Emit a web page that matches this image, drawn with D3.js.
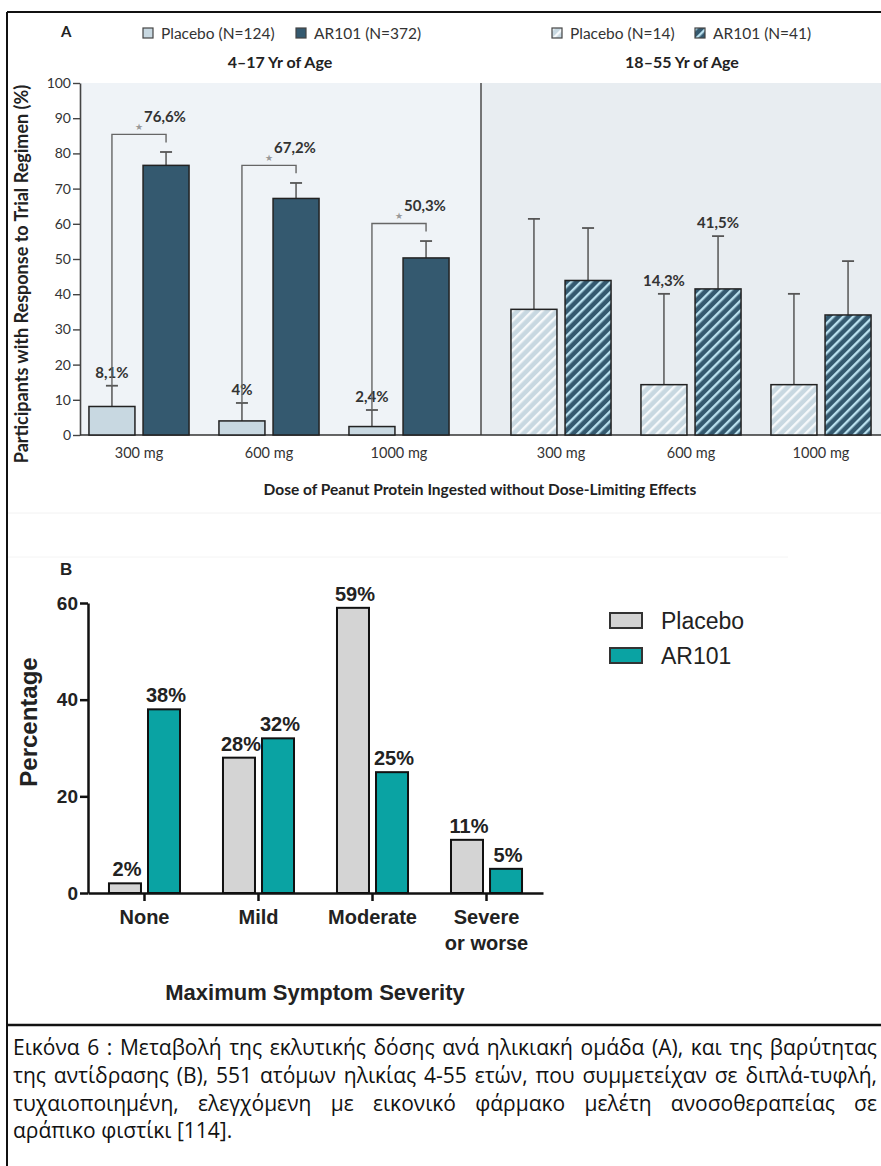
<!DOCTYPE html>
<html>
<head>
<meta charset="utf-8">
<script src="https://cdn.jsdelivr.net/npm/d3@7"></script>
<style>
  body { margin: 0; background: #fff; }
  svg { display: block; }
</style>
</head>
<body>
<div id="chart"></div>
<script>
// ---- datos panel A (NEJM, oral immunotherapy) ----
var doses = ["300 mg", "600 mg", "1000 mg"];
// 4-17 yr
var childPlacebo = [8.1, 4.0, 2.4];
var childPlaceboHi = [14.0, 9.1, 7.1];
var childAR = [76.6, 67.2, 50.3];
var childARHi = [80.4, 71.6, 55.1];
var childPlaceboLabels = ["8,1%", "4%", "2,4%"];
var childARLabels = ["76,6%", "67,2%", "50,3%"];
// 18-55 yr
var adultPlacebo = [35.7, 14.3, 14.3];
var adultPlaceboHi = [61.4, 40.1, 40.1];
var adultAR = [43.9, 41.5, 34.1];
var adultARHi = [58.8, 56.5, 49.4];
var adultPlaceboLabels = ["", "14,3%", ""];
var adultARLabels = ["", "41,5%", ""];
var ticksA = [0, 10, 20, 30, 40, 50, 60, 70, 80, 90, 100];

// ---- datos panel B ----
var severity = [["None"], ["Mild"], ["Moderate"], ["Severe", "or worse"]];
var placeboB = [2, 28, 59, 11];
var arB = [38, 32, 25, 5];
var ticksB = [0, 20, 40, 60];

// caption
var captionLines = [
  "Εικόνα 6 : Μεταβολή της εκλυτικής δόσης ανά ηλικιακή ομάδα (Α), και της βαρύτητας",
  "της αντίδρασης (Β), 551 ατόμων ηλικίας 4-55 ετών, που συμμετείχαν σε διπλά-τυφλή,",
  "τυχαιοποιημένη, ελεγχόμενη με εικονικό φάρμακο μελέτη ανοσοθεραπείας σε",
  "αράπικο φιστίκι [114]."
];

var W = 881, H = 1166;
var fontA = "Lato, 'Open Sans', sans-serif";
var fontB = "'Liberation Sans', Arial, sans-serif";

var colDark = "#34596f", colLight = "#c8d8e1";
var colGrey = "#d4d4d4", colTeal = "#0aa3a3";

var svg = d3.select("#chart").append("svg")
  .attr("width", W).attr("height", H);

// hatch patterns
var defs = svg.append("defs");
function hatch(id, base, stripe) {
  var p = defs.append("pattern")
    .attr("id", id)
    .attr("patternUnits", "userSpaceOnUse")
    .attr("width", 7).attr("height", 7)
    .attr("patternTransform", "rotate(45)");
  p.append("rect").attr("width", 7).attr("height", 7).attr("fill", base);
  p.append("rect").attr("x", 0).attr("width", 2.4).attr("height", 7).attr("fill", stripe);
}
hatch("hatchLight", colLight, "#f6f9fb");
hatch("hatchDark", colDark, "#b9e0ee");

// frame
svg.append("line").attr("x1", 7).attr("x2", W).attr("y1", 12).attr("y2", 12)
  .attr("stroke", "#111").attr("stroke-width", 2);
svg.append("line").attr("x1", 7).attr("x2", 7).attr("y1", 12).attr("y2", H)
  .attr("stroke", "#111").attr("stroke-width", 2);
svg.append("line").attr("x1", 7).attr("x2", W).attr("y1", 1025).attr("y2", 1025)
  .attr("stroke", "#111").attr("stroke-width", 2.5);

// ================= PANEL A =================
var gA = svg.append("g").attr("class", "panelA");
var yA = d3.scaleLinear().domain([0, 100]).range([435, 83]);
var xLeft = d3.scaleBand().domain(doses).range([74, 464]).paddingInner(0.23).paddingOuter(0.115);
var xRight = d3.scaleBand().domain(doses).range([496, 886]).paddingInner(0.23).paddingOuter(0.115);
var xSub = d3.scaleBand().domain(["placebo", "ar101"]).range([0, xLeft.bandwidth()]).paddingInner(0.15);
var divX = 481;

// backgrounds
gA.append("rect").attr("x", 80).attr("y", yA(100)).attr("width", divX - 80)
  .attr("height", yA(0) - yA(100)).attr("fill", "#eff3f7");
gA.append("rect").attr("x", divX).attr("y", yA(100)).attr("width", W - divX)
  .attr("height", yA(0) - yA(100)).attr("fill", "#e8edf1");
gA.append("line").attr("x1", divX).attr("x2", divX).attr("y1", yA(100)).attr("y2", yA(0))
  .attr("stroke", "#555").attr("stroke-width", 1.6);

// y axis
var axA = gA.append("g").attr("transform", "translate(80,0)")
  .call(d3.axisLeft(yA).tickValues(ticksA).tickSize(7).tickSizeOuter(0));
axA.select(".domain").attr("stroke", "#444").attr("stroke-width", 1.6);
axA.selectAll(".tick line").attr("stroke", "#444").attr("stroke-width", 1.4);
axA.selectAll(".tick text").attr("font-family", fontA).attr("font-size", 14)
  .attr("fill", "#333").attr("x", -9);

// baseline
gA.append("line").attr("x1", 80).attr("x2", W).attr("y1", yA(0)).attr("y2", yA(0))
  .attr("stroke", "#333").attr("stroke-width", 1.6);

// bars + error bars for one age group
function drawGroup(xs, placebo, placeboHi, ar, arHi, fillP, fillA, labP, labA) {
  var rows = doses.map(function(d, i) {
    return [
      {dose: d, key: "placebo", v: placebo[i], hi: placeboHi[i], fill: fillP, lab: labP[i]},
      {dose: d, key: "ar101", v: ar[i], hi: arHi[i], fill: fillA, lab: labA ? labA[i] : ""}
    ];
  });
  var flat = [].concat.apply([], rows);
  var g = gA.append("g");
  var cx = function(d) { return xs(d.dose) + xSub(d.key) + xSub.bandwidth() / 2; };

  // error bars
  g.selectAll("line.err").data(flat).join("line").attr("class", "err")
    .attr("x1", cx).attr("x2", cx)
    .attr("y1", function(d) { return yA(d.v); })
    .attr("y2", function(d) { return yA(d.hi); })
    .attr("stroke", "#555").attr("stroke-width", 1.5);
  g.selectAll("line.cap").data(flat).join("line").attr("class", "cap")
    .attr("x1", function(d) { return cx(d) - 6; })
    .attr("x2", function(d) { return cx(d) + 6; })
    .attr("y1", function(d) { return yA(d.hi); })
    .attr("y2", function(d) { return yA(d.hi); })
    .attr("stroke", "#555").attr("stroke-width", 1.8);

  g.selectAll("rect").data(flat).join("rect")
    .attr("x", function(d) { return xs(d.dose) + xSub(d.key); })
    .attr("y", function(d) { return yA(d.v); })
    .attr("width", xSub.bandwidth())
    .attr("height", function(d) { return yA(0) - yA(d.v); })
    .attr("fill", function(d) { return d.fill; })
    .attr("stroke", "#222").attr("stroke-width", 1.5);

  return {flat: flat, cx: cx};
}

var child = drawGroup(xLeft, childPlacebo, childPlaceboHi, childAR, childARHi,
  colLight, colDark, childPlaceboLabels, null);
var adult = drawGroup(xRight, adultPlacebo, adultPlaceboHi, adultAR, adultARHi,
  "url(#hatchLight)", "url(#hatchDark)", adultPlaceboLabels, adultARLabels);

// value labels above error bars
[child, adult].forEach(function(grp) {
  gA.append("g").selectAll("text")
    .data(grp.flat.filter(function(d) { return d.lab; }))
    .join("text")
    .attr("x", grp.cx)
    .attr("y", function(d) { return yA(d.hi) - 8; })
    .attr("text-anchor", "middle")
    .attr("font-family", fontA).attr("font-size", 15).attr("font-weight", "bold")
    .attr("fill", "#333")
    .text(function(d) { return d.lab; });
});

// significance brackets (4-17 yr)
var brG = gA.append("g");
doses.forEach(function(d, i) {
  var x1 = xLeft(d) + xSub("placebo") + xSub.bandwidth() / 2;
  var x2 = xLeft(d) + xSub("ar101") + xSub.bandwidth() / 2;
  var yb = yA(childARHi[i] + 5);
  brG.append("path")
    .attr("d", "M" + x1 + "," + yA(childPlaceboHi[i]) + "V" + yb + "H" + x2 + "V" + (yb + 8))
    .attr("fill", "none").attr("stroke", "#666").attr("stroke-width", 1.4);
  var mid = (x1 + x2) / 2;
  brG.append("text").attr("x", mid).attr("y", yb - 4)
    .attr("text-anchor", "middle")
    .attr("font-family", "'DejaVu Sans', sans-serif").attr("font-size", 9)
    .attr("fill", "#999").text("★");
  brG.append("text").attr("x", mid + 5).attr("y", yb - 12)
    .attr("font-family", fontA).attr("font-size", 15).attr("font-weight", "bold")
    .attr("fill", "#333").text(childARLabels[i]);
});

// x tick labels
[xLeft, xRight].forEach(function(xs) {
  gA.append("g").selectAll("text").data(doses).join("text")
    .attr("x", function(d) { return xs(d) + xs.bandwidth() / 2; })
    .attr("y", 458)
    .attr("text-anchor", "middle")
    .attr("font-family", fontA).attr("font-size", 14.5).attr("fill", "#333")
    .text(function(d) { return d; });
});

// titles / labels panel A
gA.append("text").attr("x", 480).attr("y", 495).attr("text-anchor", "middle")
  .attr("font-family", fontA).attr("font-size", 15.5).attr("font-weight", "bold").attr("fill", "#222")
  .text("Dose of Peanut Protein Ingested without Dose-Limiting Effects");
gA.append("text").attr("transform", "translate(28,274) rotate(-90)").attr("text-anchor", "middle")
  .attr("font-family", fontA).attr("font-size", 18).attr("font-weight", "bold").attr("fill", "#222")
  .text("Participants with Response to Trial Regimen (%)");
gA.append("text").attr("x", 61).attr("y", 37)
  .attr("font-family", fontA).attr("font-size", 15).attr("font-weight", "bold").attr("fill", "#222")
  .text("A");
gA.append("text").attr("x", 280).attr("y", 68).attr("text-anchor", "middle")
  .attr("font-family", fontA).attr("font-size", 16).attr("font-weight", "bold").attr("fill", "#222")
  .text("4–17 Yr of Age");
gA.append("text").attr("x", 682).attr("y", 68).attr("text-anchor", "middle")
  .attr("font-family", fontA).attr("font-size", 16).attr("font-weight", "bold").attr("fill", "#222")
  .text("18–55 Yr of Age");

// legends A
var legA = [
  {x: 143, fill: colLight, t: "Placebo (N=124)"},
  {x: 296, fill: colDark, t: "AR101 (N=372)"},
  {x: 552, fill: "url(#hatchLight)", t: "Placebo (N=14)"},
  {x: 695, fill: "url(#hatchDark)", t: "AR101 (N=41)"}
];
var lg = gA.append("g").selectAll("g").data(legA).join("g")
  .attr("transform", function(d) { return "translate(" + d.x + ",28)"; });
lg.append("rect").attr("width", 10).attr("height", 10)
  .attr("fill", function(d) { return d.fill; }).attr("stroke", "#444").attr("stroke-width", 1.2);
lg.append("text").attr("x", 18).attr("y", 10.5)
  .attr("font-family", fontA).attr("font-size", 15.5).attr("fill", "#333")
  .text(function(d) { return d.t; });

// faint scan lines between panels
svg.append("line").attr("x1", 8).attr("x2", W).attr("y1", 513).attr("y2", 513)
  .attr("stroke", "#f2f2f2").attr("stroke-width", 1);
svg.append("line").attr("x1", 8).attr("x2", 788).attr("y1", 557).attr("y2", 557)
  .attr("stroke", "#f4f4f4").attr("stroke-width", 1);

// ================= PANEL B =================
var gB = svg.append("g").attr("class", "panelB");
var catB = severity.map(function(d) { return d.join(" "); });
var yB = d3.scaleLinear().domain([0, 60]).range([893, 603]);
var xB = d3.scaleBand().domain(catB).range([88, 543]).paddingInner(0.377).paddingOuter(0.184);
var xBsub = d3.scaleBand().domain(["placebo", "ar101"]).range([0, xB.bandwidth()]).paddingInner(0.18);

var dataB = [];
catB.forEach(function(c, i) {
  dataB.push({cat: c, key: "placebo", v: placeboB[i], fill: colGrey});
  dataB.push({cat: c, key: "ar101", v: arB[i], fill: colTeal});
});

gB.selectAll("rect.bar").data(dataB).join("rect").attr("class", "bar")
  .attr("x", function(d) { return xB(d.cat) + xBsub(d.key); })
  .attr("y", function(d) { return yB(d.v); })
  .attr("width", xBsub.bandwidth())
  .attr("height", function(d) { return yB(0) - yB(d.v); })
  .attr("fill", function(d) { return d.fill; })
  .attr("stroke", "#111").attr("stroke-width", 2);

gB.selectAll("text.val").data(dataB).join("text").attr("class", "val")
  .attr("x", function(d) { return xB(d.cat) + xBsub(d.key) + xBsub.bandwidth() / 2 + 2; })
  .attr("y", function(d) { return yB(d.v) - 7; })
  .attr("text-anchor", "middle")
  .attr("font-family", fontB).attr("font-size", 20).attr("font-weight", "bold").attr("fill", "#222")
  .text(function(d) { return d.v + "%"; });

// axes B
var axBy = gB.append("g").attr("transform", "translate(88,0)")
  .call(d3.axisLeft(yB).tickValues(ticksB).tickSize(8).tickSizeOuter(0));
axBy.select(".domain").attr("stroke", "#111").attr("stroke-width", 2.5);
axBy.selectAll(".tick line").attr("stroke", "#111").attr("stroke-width", 2.5);
axBy.selectAll(".tick text").attr("font-family", fontB).attr("font-size", 19)
  .attr("font-weight", "bold").attr("fill", "#222").attr("x", -10);

var axBx = gB.append("g").attr("transform", "translate(0,893)")
  .call(d3.axisBottom(xB).tickSize(8).tickSizeOuter(0).tickFormat(""));
axBx.select(".domain").attr("stroke", "#111").attr("stroke-width", 2.5);
axBx.selectAll(".tick line").attr("stroke", "#111").attr("stroke-width", 2.5);

// category labels (multi-line)
var catText = gB.append("g").selectAll("text").data(severity).join("text")
  .attr("text-anchor", "middle")
  .attr("font-family", fontB).attr("font-size", 20).attr("font-weight", "bold").attr("fill", "#222");
catText.each(function(d) {
  var t = d3.select(this);
  var cx = xB(d.join(" ")) + xB.bandwidth() / 2;
  d.forEach(function(line, j) {
    t.append("tspan").attr("x", cx).attr("y", 924 + j * 26).text(line);
  });
});

gB.append("text").attr("x", 315).attr("y", 1000).attr("text-anchor", "middle")
  .attr("font-family", fontB).attr("font-size", 22).attr("font-weight", "bold").attr("fill", "#222")
  .text("Maximum Symptom Severity");
gB.append("text").attr("transform", "translate(37,722) rotate(-90)").attr("text-anchor", "middle")
  .attr("font-family", fontB).attr("font-size", 24).attr("font-weight", "bold").attr("fill", "#222")
  .text("Percentage");
gB.append("text").attr("x", 60).attr("y", 575)
  .attr("font-family", fontB).attr("font-size", 17).attr("font-weight", "bold").attr("fill", "#222")
  .text("B");

// legend B
var legB = [{t: "Placebo", fill: colGrey}, {t: "AR101", fill: colTeal}];
var lb = gB.append("g").selectAll("g").data(legB).join("g")
  .attr("transform", function(d, i) { return "translate(610," + (613 + i * 35) + ")"; });
lb.append("rect").attr("width", 32).attr("height", 15)
  .attr("fill", function(d) { return d.fill; }).attr("stroke", "#333").attr("stroke-width", 2);
lb.append("text").attr("x", 51).attr("y", 16)
  .attr("font-family", fontB).attr("font-size", 23).attr("fill", "#222")
  .text(function(d) { return d.t; });

// ================= CAPTION =================
var capG = svg.append("g");
var capLeft = 13, capRight = 877;
captionLines.forEach(function(t, i) {
  var el = capG.append("text").attr("x", capLeft).attr("y", 1055 + i * 27.8)
    .attr("font-family", "'Open Sans', 'Noto Sans', sans-serif").attr("font-size", 21)
    .attr("fill", "#111").text(t);
  // justify all but last line
  if (i < captionLines.length - 1) {
    var gaps = t.split(" ").length - 1;
    var w = el.node().getComputedTextLength();
    el.attr("word-spacing", ((capRight - capLeft) - w) / gaps);
  }
});
</script>
</body>
</html>
